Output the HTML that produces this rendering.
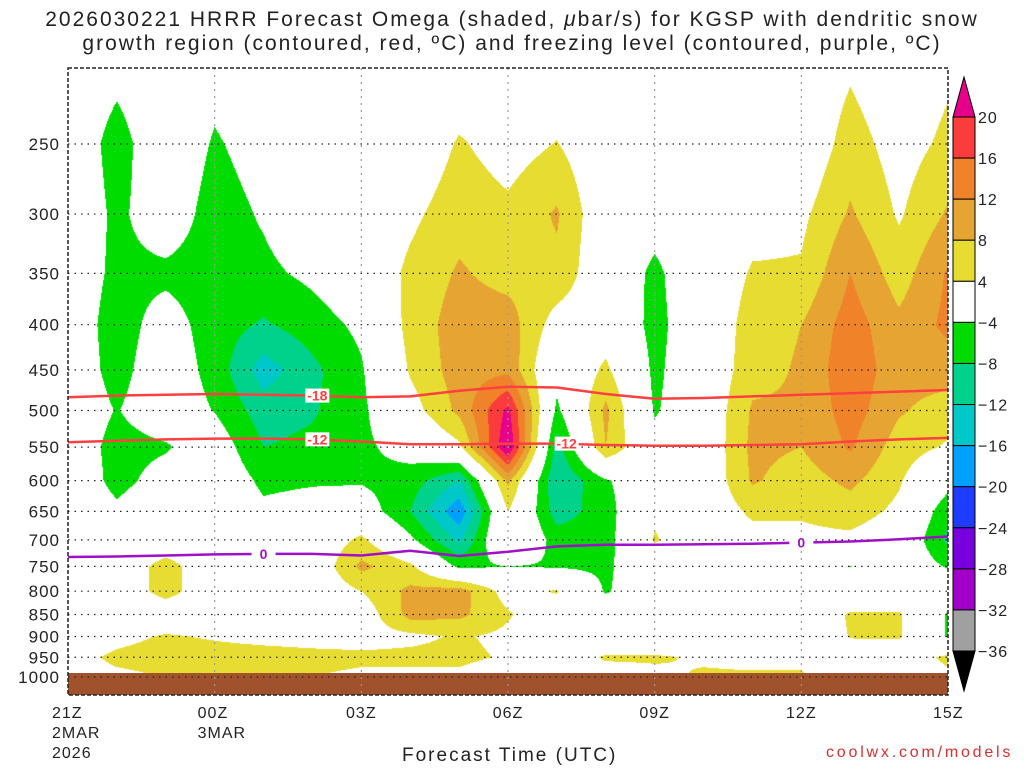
<!DOCTYPE html>
<html><head><meta charset="utf-8">
<style>
body{margin:0;background:#fff;width:1024px;height:768px;overflow:hidden;position:relative;font-family:"Liberation Sans",sans-serif;color:#222}
.t{position:absolute;white-space:nowrap}
</style></head>
<body>
<div class="t" style="left:0;width:1024px;text-align:center;top:8px;font-size:21px;line-height:24px;letter-spacing:2.0px">2026030221 HRRR Forecast Omega (shaded, <i>μ</i>bar/s) for KGSP with dendritic snow<br>growth region (contoured, red, ºC) and freezing level (contoured, purple, ºC)</div>
<canvas id="field" width="880" height="627" style="position:absolute;left:68px;top:68px"></canvas>
<svg id="ov" width="1024" height="768" style="position:absolute;left:0;top:0"></svg>
<div class="t" style="left:402px;top:745px;font-size:19px;letter-spacing:2px">Forecast Time (UTC)</div>
<div class="t" style="left:826px;top:744px;font-size:16px;color:#d83030;letter-spacing:2.8px">coolwx.com/models</div>
<script>
const levels=[200,250,300,350,400,450,500,550,600,650,700,750,800,850,900,950,1000];
const tickLevels=[250,300,350,400,450,500,550,600,650,700,750,800,850,900,950,1000];
const timeLabels=[["21Z","2MAR","2026"],["00Z","3MAR"],["03Z"],["06Z"],["09Z"],["12Z"],["15Z"]];
const cbLabels=["20","16","12","8","4","−4","−8","−12","−16","−20","−24","−28","−32","−36"];
const bounds=[20,16,12,8,4,-4,-8,-12,-16,-20,-24,-28,-32,-36];
// omega per hourly column (21Z..15Z), values at levels 200..1000
const om=[
[0,0,0,-1,-1,-1,-1,-1,0,0,0,0,0,0,0,2,2],
[-2,-6,-5,-5,-6,-5.5,-4.2,-5.5,-5.5,-3,0,0,0,0,2.5,5,3],
[0,0,-1,-5,-2,-1,-1,-4.5,-2,0,0,6,6,0,4.5,6,4],
[-2,-4.5,-6,-6,-6,-5.5,-4.2,-1,0,0,0,0,0,0,3.5,6,4],
[0,-2,-3.5,-5,-8.5,-14,-10,-8,-5,-3,0,0,0,0,2.5,6,4],
[0,0,0,-3,-6,-9,-8.5,-7,-4.5,-2,0,0,0,0,2,5.5,4],
[0,0,0,0,-3,-4.5,-5,-5,-4.5,-1,5,9,4,1,2,5,3],
[0,0,3,5,5.5,4.5,2,-2,-6,-8,-3,5,9,9.5,3,5,3],
[0,4.5,6.5,8.5,10,10,9,3,-12,-19,-13,-5,10,9,4.5,5,3],
[0,2,5,6.5,10,11,21,24,9,4,3.5,-4,2,4.5,3,3.5,1],
[0,4.2,8.5,7,2,-2,-5,-10,-12,-10,-6,-4.5,4.5,0,0,1,1],
[0,0,0,0,1,5,9,8,-4.5,-6,-6,-5,-4.5,0,0,4.5,2],
[0,0,-2,-5,-5.5,-5,-4.5,-2,0,3,4.5,1,0,0,0,4.5,3],
[0,0,0,0,0,0,0,0,0,0,0,0,0,0,0,3.5,4.5],
[0,0,2,4.5,6,6.5,8.5,9,8.5,5,2,0,0,0,0,3,4.5],
[0,0,3,4.5,8,8.5,8.5,8,6,4.5,3,0,0,0,0,3,4.5],
[3,6,8.5,12,14,15,14,12.5,9,6,3,-4.2,0,4.5,4.2,2,1],
[0,2,3.5,6,9,9.5,8.5,6,4.5,3,1,0,0,4.5,4.5,1,1],
[3,5,8.5,12.5,13,10,6,3.5,-2,-7,-9,-4.5,0,-4.5,-4.5,5,3]];
const iso18=[483,481,480,479,480,481,483,482,475,470,471,479,485,484,482,480,478,476,474];
const iso12=[543,541,539,538,538,539,542,546,546,545,545,547,548,548,547,546,542,539,537];
const iso0=[732,731,729,727,726,726,729,720,730,722,712,709,709,708,707,705,703,699,694];

const X0=68,X1=948,YT=68,YB=695;
const xs=t=>X0+t*(X1-X0)/18;
const ys=p=>677-384.5*Math.log(1000/p);
const cbY=v=>{const i=bounds.indexOf(v);return 117+i*(651-117)/13;};
const colors=[[230,0,138],[250,60,60],[240,130,42],[230,165,50],[230,220,50],[255,255,255],[0,220,0],[0,210,140],[0,200,200],[0,160,255],[30,60,255],[120,0,220],[160,0,200],[160,160,160],[0,0,0]];
function colorOf(v){for(let i=0;i<bounds.length;i++){if(v>=bounds[i])return colors[i];}return colors[14];}

const cv=document.getElementById('field'),ctx=cv.getContext('2d');
const img=ctx.createImageData(880,627);
const ly=levels.map(ys);
for(let py=0;py<627;py++){
  const y=py+YT+0.5;
  let j=0;while(j<levels.length-2&&ly[j+1]<y)j++;
  let fy=(y-ly[j])/(ly[j+1]-ly[j]);fy=Math.max(0,Math.min(1,fy));
  for(let px=0;px<880;px++){
    const t=(px+0.5)*18/880;let i=Math.min(17,Math.floor(t));const fx=t-i;
    const v=(1-fx)*((1-fy)*om[i][j]+fy*om[i][j+1])+fx*((1-fy)*om[i+1][j]+fy*om[i+1][j+1]);
    const c=colorOf(v);const k=(py*880+px)*4;
    img.data[k]=c[0];img.data[k+1]=c[1];img.data[k+2]=c[2];img.data[k+3]=255;
  }
}
ctx.putImageData(img,0,0);

const svg=document.getElementById('ov');const NS='http://www.w3.org/2000/svg';
function mk(tag,attrs,parent){const e=document.createElementNS(NS,tag);for(const k in attrs)e.setAttribute(k,attrs[k]);(parent||svg).appendChild(e);return e;}
let g=mk('rect',{x:X0,y:673,width:X1-X0,height:YB-673,fill:'#a0522d'});


tickLevels.forEach(p=>{
  const l=mk('line',{x1:X0,x2:X1,y1:ys(p),y2:ys(p),stroke:'#222','stroke-width':1.2,'stroke-dasharray':'1.5 5'});
  
  
  const tx=mk('text',{x:60,y:ys(p)+6,'text-anchor':'end','font-size':17,'letter-spacing':1,fill:'#222','font-family':'Liberation Sans, sans-serif'});
  tx.textContent=p;
  
  
});
for(let t=3;t<18;t+=3){
  const l=mk('line',{x1:xs(t),x2:xs(t),y1:YT,y2:YB,stroke:'#999','stroke-width':1.2,'stroke-dasharray':'2 5'});
  
  
}
timeLabels.forEach((ls,k)=>{
  ls.forEach((s,r)=>{
    const tx=mk('text',{x:xs(k*3),y:718+r*20,'text-anchor':'middle','font-size':16,'letter-spacing':1,fill:'#222','font-family':'Liberation Sans, sans-serif'});
    if(k==0||k==1){tx.setAttribute('x',xs(k*3)-(k==0?16:17));tx.setAttribute('text-anchor','start');}
    if(k==6){tx.setAttribute('x',xs(18)-15);tx.setAttribute('text-anchor','start');}
    tx.textContent=s;
    
    
  });
});
function contour(arr,color,name){
  let d='';arr.forEach((p,i)=>{d+=(i?'L':'M')+xs(i).toFixed(1)+','+ys(p).toFixed(1);});
  const pth=mk('path',{d:d,fill:'none',stroke:color,'stroke-width':2.5});
  
  
}
contour(iso18,'#ff4040','contour-minus18');
contour(iso12,'#ff4040','contour-minus12');
contour(iso0,'#a010c8','freezing-level-contour');
function clabel(t,arr,s,color){
  const x=xs(t),y=ys(arr[Math.round(t)]);
  const r=mk('rect',{x:x-12,y:y-7,width:24,height:14,fill:'#fff'});
  
  
  const tx=mk('text',{x:x,y:y+5,'text-anchor':'middle','font-size':14,'font-weight':'bold',fill:color,'font-family':'Liberation Sans, sans-serif'});
  tx.textContent=s;
  
  
}
clabel(5.1,iso18,'-18','#ff4040');
clabel(5.1,iso12,'-12','#ff4040');
clabel(10.2,iso12,'-12','#ff4040');
clabel(4,iso0,'0','#a010c8');
clabel(15,iso0,'0','#a010c8');
const fr=mk('rect',{x:X0,y:YT,width:X1-X0,height:YB-YT,fill:'none',stroke:'#222','stroke-width':1.5,'stroke-dasharray':'4 2'});


const cx=953,cw=22;
for(let i=0;i<13;i++){
  const c=colors[i+1];
  const r=mk('rect',{x:cx,y:cbY(bounds[i]),width:cw,height:cbY(bounds[i+1])-cbY(bounds[i]),fill:'rgb('+c+')',stroke:'#000','stroke-width':1});
  
  
}
let tri=mk('polygon',{points:`${cx},117 ${cx+cw},117 ${cx+cw/2},77`,fill:'rgb('+colors[0]+')',stroke:'#000'});


tri=mk('polygon',{points:`${cx},651 ${cx+cw},651 ${cx+cw/2},691`,fill:'#000',stroke:'#000'});


cbLabels.forEach((s,i)=>{
  const tx=mk('text',{x:978,y:cbY(bounds[i])+6,'font-size':16,'letter-spacing':1,fill:'#222','font-family':'Liberation Sans, sans-serif'});
  tx.textContent=s;
  
  
});
</script>
</body></html>
